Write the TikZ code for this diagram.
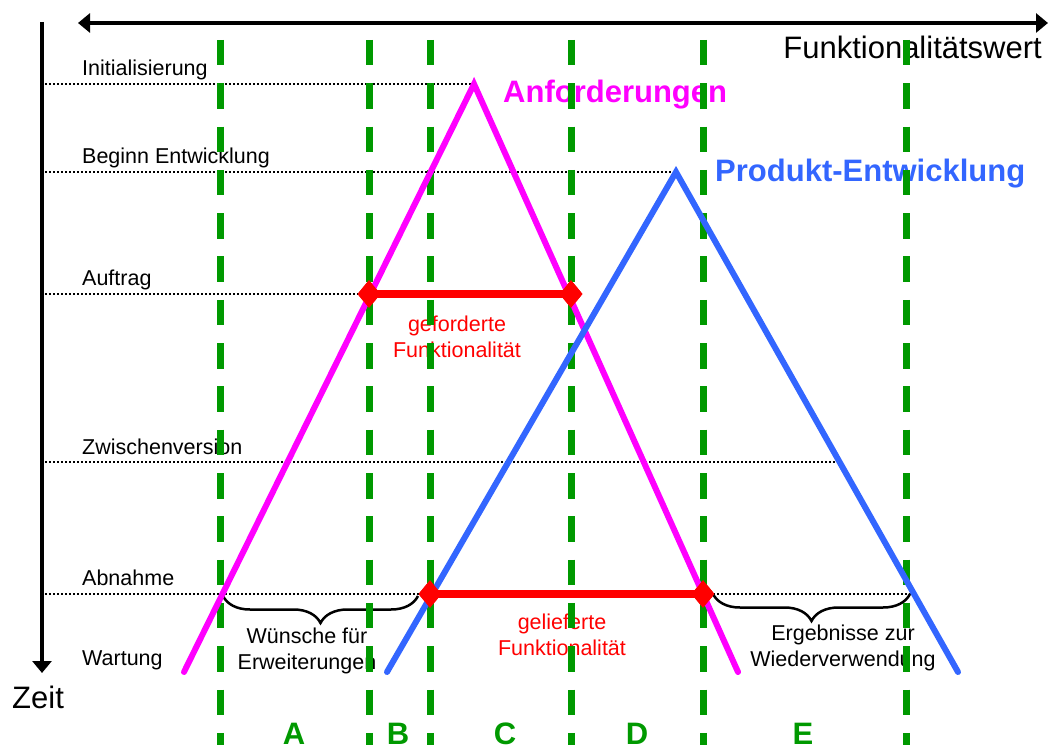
\documentclass[tikz,border=0pt]{standalone}
\usepackage{fontspec}
\setmainfont{Liberation Sans}
\usetikzlibrary{arrows.meta,positioning,shapes.geometric,decorations.pathreplacing}

\definecolor{anfmagenta}{RGB}{255,0,255}
\definecolor{prodblue}{RGB}{51,102,255}
\definecolor{zonegreen}{RGB}{0,153,0}
\definecolor{funcred}{RGB}{255,0,0}

\begin{document}
\begin{tikzpicture}[x=1pt, y=-1pt,
  axis/.style={line width=4pt, -{Triangle[length=12pt,width=19pt]}},
  level/.style={line width=2.4pt, dash pattern=on 2.2pt off 1.8pt},
  zone/.style={draw=zonegreen, line width=7pt, dash pattern=on 25.5pt off 17.8pt},
  flank/.style={line width=6pt, line cap=round},
  gain/.style={draw=funcred, line width=8pt},
  endmark/.style={diamond, fill=funcred, minimum width=23pt, minimum height=28pt, inner sep=0pt},
  lvltext/.style={anchor=base west, inner sep=0pt, font=\fontsize{21.5}{25}\selectfont},
  bigtext/.style={anchor=base west, inner sep=0pt, font=\fontsize{31}{35}\selectfont},
  note/.style={align=center, inner sep=0pt, font=\fontsize{21.5}{26}\selectfont},
  zonetext/.style={anchor=base, inner sep=0pt, text=zonegreen, font=\fontsize{31}{35}\selectfont\bfseries},
  curly/.style={decorate, decoration={brace, mirror, amplitude=27pt}, line width=2.5pt}]
  \useasboundingbox (0,0) rectangle (1049,751);

  % axes
  \coordinate (t0) at (42,22);
  \coordinate (t1) at (42,673);
  \coordinate (f0) at (78,23);
  \coordinate (f1) at (1048,23);
  \draw[axis] (t0) -- (t1);
  \draw[axis, {Triangle[length=12pt,width=19pt]}-{Triangle[length=12pt,width=19pt]}] (f0) -- (f1);
  \node[bigtext] (zeit) at (12,708) {Zeit};
  \node[bigtext, anchor=base east] (fwert) at (1042,59) {Funktionalitätswert};

  % milestones
  \node[lvltext] (init) at (82,76) {Initialisierung};
  \node[lvltext] (beginn) at (82,164) {Beginn Entwicklung};
  \node[lvltext] (auftrag) at (82,286) {Auftrag};
  \node[lvltext] (zwischen) at (82,454) {Zwischenversion};
  \node[lvltext] (abnahme) at (82,585) {Abnahme};
  \node[lvltext] (wartung) at (82,665) {Wartung};

  % curve titles and notes
  \node[bigtext, text=anfmagenta, font=\fontsize{31}{35}\selectfont\bfseries] (anf) at (503,103) {Anforderungen};
  \node[bigtext, text=prodblue, font=\fontsize{31}{35}\selectfont\bfseries] (prod) at (715,182) {Produkt-Entwicklung};
  \node[note, text=funcred] (gef) at (457,337) {geforderte\\Funktionalität};
  \node[note, text=funcred] (gel) at (562,635) {gelieferte\\Funktionalität};
  \node[note] (wunsch) at (307,651) {Wünsche für\\Erweiterungen};
  \node[note] (ergeb) at (843,648) {Ergebnisse zur\\Wiederverwendung};

  % triangle corners
  \coordinate (apeak) at (474,84);
  \coordinate (aleft) at (184,672);
  \coordinate (aright) at (738,672);
  \coordinate (ppeak) at (676,172);
  \coordinate (pleft) at (387,672);
  \coordinate (pright) at (958,672);

  % red end points
  \node[endmark] (auf1) at (369,294) {};
  \node[endmark] (auf2) at (571,294) {};
  \node[endmark] (abn1) at (430,594) {};
  \node[endmark] (abn2) at (703,594) {};

  % dotted milestone lines
  \coordinate (l1) at (45,84);
  \coordinate (l2) at (45,172);
  \coordinate (l3) at (45,294);
  \coordinate (l4) at (45,462);
  \coordinate (l5) at (45,594);
  \coordinate (z4) at (838,462);
  \coordinate (z5) at (912,594);
  \draw[level] (l1) -- (apeak);
  \draw[level] (l2) -- (ppeak);
  \draw[level] (l3) -- (auf1.center);
  \draw[level] (l4) -- (z4);
  \draw[level] (l5) -- (z5);

  % braces
  \coordinate (wl) at (223,596);
  \coordinate (wr) at (418,596);
  \coordinate (el) at (713,594);
  \coordinate (er) at (910,594);
  \draw[curly] (wl) -- (wr);
  \draw[curly] (el) -- (er);

  % zone borders
  \draw[zone] (220,40) -- (220,745);
  \draw[zone] (369,40) -- (369,745);
  \draw[zone] (430,40) -- (430,745);
  \draw[zone] (571,40) -- (571,745);
  \draw[zone] (703,40) -- (703,745);
  \draw[zone] (906,40) -- (906,745);

  % requirements and product
  \draw[flank, anfmagenta] (aleft) -- (apeak) -- (aright);
  \draw[flank, prodblue] (pleft) -- (ppeak) -- (pright);

  % functionality bars
  \draw[gain] (auf1.center) -- (auf2.center);
  \draw[gain] (abn1.center) -- (abn2.center);
  \node[endmark] at (auf1) {};
  \node[endmark] at (auf2) {};
  \node[endmark] at (abn1) {};
  \node[endmark] at (abn2) {};

  % zones
  \node[zonetext] (za) at (294,744) {A};
  \node[zonetext] (zb) at (398,744) {B};
  \node[zonetext] (zc) at (505,744) {C};
  \node[zonetext] (zd) at (637,744) {D};
  \node[zonetext] (ze) at (803,744) {E};
\end{tikzpicture}
\end{document}
